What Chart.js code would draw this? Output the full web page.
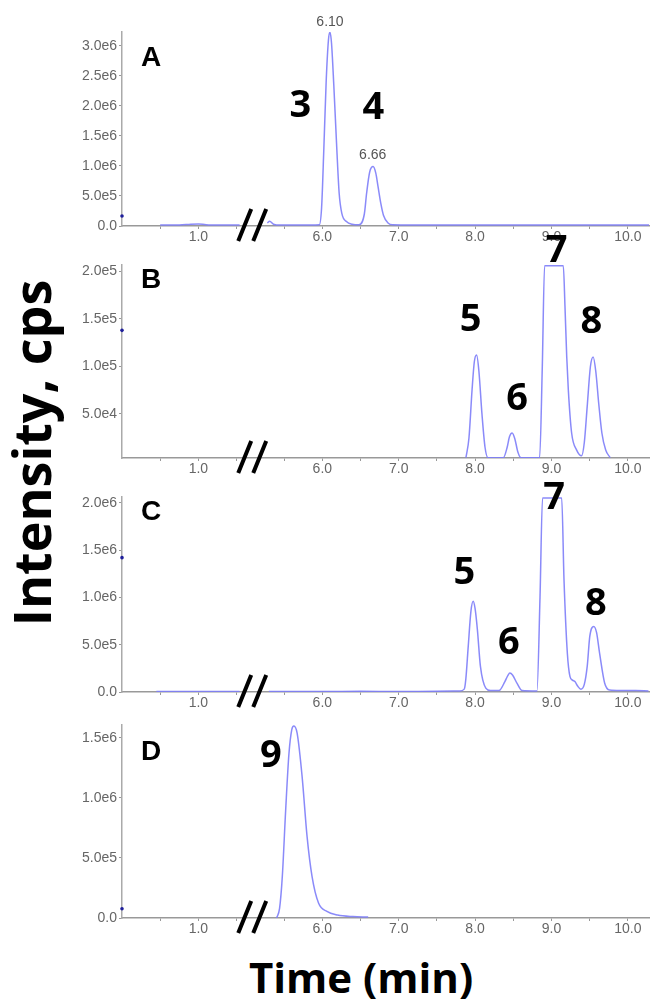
<!DOCTYPE html>
<html lang="en">
<head>
  <meta charset="UTF-8" />
  <title>Chromatograms A-D</title>
  <script src="https://cdn.jsdelivr.net/npm/chart.js"></script>
  <style>
    body {
      margin: 0;
      background: white;
      width: 653px;
      height: 1007px;
      position: relative;
      overflow: hidden;
      font-family: "Open Sans", Arial, sans-serif;
    }
    canvas { position: absolute; left: 0; }
    .title {
      position: absolute;
      font-weight: bold;
      color: #000;
      text-align: center;
      white-space: nowrap;
    }
    #ytitle {
      left: -219px; top: 427px; width: 500px; height: 52px;
      font-size: 52px; line-height: 52px;
      transform: rotate(-90deg);
    }
    #xtitle {
      left: 161px; top: 956px; width: 400px; height: 42px;
      font-size: 42px; line-height: 42px;
    }
  </style>
</head>
<body>
  <canvas id="panelA" width="653" height="250"></canvas>
  <canvas id="panelB" width="653" height="249"></canvas>
  <canvas id="panelC" width="653" height="251"></canvas>
  <canvas id="panelD" width="653" height="249"></canvas>
  <div class="title" id="ytitle">Intensity, cps</div>
  <div class="title" id="xtitle">Time (min)</div>

  <script>
    // retention time axis, with a break between ~1.5 and ~5.3 min
    const xTickTimes = [0.5, 1.0, 1.5, 5.5, 6.0, 6.5, 7.0, 7.5, 8.0, 8.5, 9.0, 9.5, 10.0];
    const xLabelTimes = [1.0, 6.0, 7.0, 8.0, 9.0, 10.0];

    // A: peaks 3 and 4 (null = axis break)
    const timesA = [0.5, 0.75, 0.9, 1.0, 1.1, 1.3, 1.54, null,
      5.28, 5.31, 5.36, 5.45, 5.7, 5.96, 5.99, 6.02, 6.05, 6.08, 6.10, 6.12, 6.15, 6.19, 6.22, 6.255, 6.32, 6.39, 6.48,
      6.55, 6.58, 6.62, 6.665, 6.70, 6.73, 6.765, 6.80, 6.86, 6.92, 7.5, 8.0, 8.5, 9.0, 9.5, 10.0, 10.3];
    const valuesA = [1.5e4, 1.5e4, 3e4, 3.5e4, 2e4, 1.5e4, 1.5e4, null,
      5e4, 8e4, 3e4, 1.5e4, 1.5e4, 2e4, 3e5, 1.3e6, 2.4e6, 3.1e6, 3.23e6, 3.05e6, 2.35e6, 1.27e6, 5.5e5, 2.1e5, 7e4, 3e4, 2e4,
      2e5, 5.5e5, 9e5, 9.9e5, 8.8e5, 6.5e5, 3.8e5, 1.8e5, 5e4, 2e4, 1.5e4, 1.5e4, 1.5e4, 1.5e4, 1.5e4, 1.5e4, 1.5e4];
    const yTicksA = [0, 5e5, 1e6, 1.5e6, 2e6, 2.5e6, 3e6];

    // B: peaks 5-8, peak 7 saturated
    const timesB = [7.88, 7.92, 7.96, 7.99, 8.02, 8.05, 8.09, 8.13, 8.17, 8.37, 8.42, 8.45, 8.485, 8.52, 8.56, 8.60,
      8.845, 8.88, 8.91, 9.00, 9.08, 9.155, 9.177, 9.20, 9.221, 9.264, 9.33, 9.394, 9.43, 9.468, 9.51, 9.546, 9.58, 9.62, 9.66, 9.71, 9.77];
    const valuesB = [4e3, 2.5e4, 7.5e4, 1.05e5, 1.12e5, 9.5e4, 5e4, 1.5e4, 4e3, 4e3, 1.5e4, 2.6e4, 3.0e4, 2.4e4, 1.0e4, 4e3,
      4e3, 1.0e5, 2.06e5, 2.06e5, 2.06e5, 2.06e5, 1.63e5, 1.1e5, 7.5e4, 3.0e4, 1.2e4, 6e3, 2e4, 5.8e4, 1.0e5, 1.1e5, 9.5e4, 6e4, 3e4, 1.2e4, 4e3];
    const yTicksB = [5e4, 1e5, 1.5e5, 2e5];

    // C: peaks 5-8, peak 7 saturated
    const timesC = [0.45, 0.8, 1.1, 1.3, 1.54, null,
      5.3, 6.0, 6.5, 7.0, 7.5, 7.8, 7.858, 7.878, 7.91, 7.945, 7.975, 8.0, 8.03, 8.07, 8.14, 8.20, 8.30,
      8.325, 8.39, 8.43, 8.455, 8.49, 8.55, 8.615, 8.81, 8.85, 8.883, 8.95, 9.05, 9.134, 9.164, 9.208, 9.242, 9.275, 9.307, 9.345, 9.385,
      9.43, 9.468, 9.502, 9.554, 9.59, 9.63, 9.696, 9.76, 9.9, 10.1, 10.27];
    const valuesC = [4e3, 4e3, 5e3, 4e3, 4e3, null,
      5e3, 5e3, 8e3, 5e3, 8e3, 1e4, 3e4, 1.3e5, 4.8e5, 8.5e5, 9.58e5, 8.8e5, 6.6e5, 2.7e5, 4e4, 1.5e4, 1.5e4,
      2e4, 1.1e5, 1.75e5, 2.0e5, 1.8e5, 9e4, 1.5e4, 1e4, 1.0e6, 2.05e6, 2.05e6, 2.05e6, 2.05e6, 1.19e6, 4.1e5, 1.65e5, 1.25e5, 1.1e5, 6e4, 3e4,
      8e4, 2.7e5, 5.9e5, 6.93e5, 6.3e5, 4.1e5, 9.5e4, 2e4, 1.5e4, 1.5e4, 1e4];
    const yTicksC = [0, 5e5, 1e6, 1.5e6, 2e6];

    // D: peak 9
    const timesD = [5.40, 5.44, 5.476, 5.52, 5.563, 5.60, 5.628, 5.67, 5.735, 5.80, 5.865, 5.95, 6.06, 6.2, 6.4, 6.6];
    const valuesD = [0, 8e4, 3.47e5, 9.0e5, 1.37e6, 1.57e6, 1.60e6, 1.54e6, 1.18e6, 6.8e5, 3.47e5, 1.25e5, 5.5e4, 2.5e4, 1.2e4, 8e3];
    const yTicksD = [0, 5e5, 1e6, 1.5e6];

    // first-scan dots sitting on the y axis
    const axisMarks = [1.67e5, 1.38e5, 1.42e6, 7.75e4];

    const GAP = 3.377;      // minutes cut out by the axis break
    const BREAK_AT = 1.705; // axis position of the // mark
    const X_MAX = 6.9;
    const PAD_TOP = 32;
    const LINE = 'rgba(125,125,248,0.9)';
    const TICK_FONT = { family: '"Liberation Sans", Arial, sans-serif', size: 14 };

    const toAxis = t => (t < 3 ? t : t - GAP);
    const fromAxis = u => (u < BREAK_AT ? u : u + GAP);

    function buildPoints(times, values) {
      return times.map((t, i) => t === null ? { x: BREAK_AT, y: null } : { x: toAxis(t), y: values[i] });
    }

    const fmtY = v => (v === 0 ? '0.0' : v.toExponential(1).replace('+', ''));

    const labelPlugin = {
      id: 'panelLabels',
      afterDraw(chart) {
        const cfg = chart.options.plugins.panelLabels;
        const { ctx, chartArea, scales } = chart;
        ctx.save();
        ctx.fillStyle = '#000';
        ctx.textAlign = 'center';
        ctx.textBaseline = 'middle';
        ctx.font = 'bold 28px "Liberation Sans", Arial, sans-serif';
        ctx.fillText(cfg.letter, chartArea.left + 29, chartArea.top + cfg.letterDy);

        ctx.font = 'bold 38px "Open Sans", sans-serif';
        cfg.peaks.forEach(p => {
          ctx.fillText(p.text, scales.x.getPixelForValue(toAxis(p.t)), scales.y.getPixelForValue(p.v));
        });

        ctx.fillStyle = '#555';
        ctx.font = '14px "Liberation Sans", Arial, sans-serif';
        (cfg.rts || []).forEach(p => {
          ctx.fillText(p.text, scales.x.getPixelForValue(toAxis(p.t)), scales.y.getPixelForValue(p.v));
        });

        // axis break
        const bx = scales.x.getPixelForValue(BREAK_AT);
        const by = chartArea.bottom;
        ctx.strokeStyle = '#000';
        ctx.lineWidth = 4;
        ctx.beginPath();
        ctx.moveTo(bx - 14, by + 15); ctx.lineTo(bx - 1, by - 17);
        ctx.moveTo(bx + 1, by + 15); ctx.lineTo(bx + 14, by - 17);
        ctx.stroke();
        ctx.restore();
      }
    };

    function makePanel(id, areaTop, times, values, mark, ymin, ymax, yTicks, labels) {
      const canvas = document.getElementById(id);
      canvas.style.top = (areaTop - PAD_TOP) + 'px';
      new Chart(canvas, {
        type: 'line',
        data: {
          datasets: [
            {
              data: buildPoints(times, values),
              borderColor: LINE,
              borderWidth: 1.5,
              pointRadius: 0,
              cubicInterpolationMode: 'monotone',
              spanGaps: false
            },
            {
              data: [{ x: 0, y: mark }],
              showLine: false,
              pointRadius: 1.8,
              pointBorderWidth: 0,
              pointBackgroundColor: '#1e1e9a',
              clip: false
            }
          ]
        },
        options: {
          responsive: false,
          animation: false,
          layout: { padding: { top: PAD_TOP, left: 0, right: 0, bottom: 0 } },
          plugins: { legend: { display: false }, tooltip: { enabled: false }, panelLabels: labels },
          scales: {
            x: {
              type: 'linear',
              min: 0,
              max: X_MAX,
              afterFit: s => { s.height = 24; },
              afterBuildTicks: s => { s.ticks = xTickTimes.map(t => ({ value: toAxis(t) })); },
              ticks: {
                autoSkip: false,
                maxRotation: 0,
                padding: 0,
                color: '#666',
                font: TICK_FONT,
                callback: v => {
                  const t = fromAxis(v);
                  return xLabelTimes.some(l => Math.abs(l - t) < 0.01) ? t.toFixed(1) : '';
                }
              },
              grid: { drawOnChartArea: false, tickLength: 3, color: '#999' },
              border: { color: '#999', width: 1.5 }
            },
            y: {
              min: ymin,
              max: ymax,
              afterFit: s => { s.width = 122; },
              afterBuildTicks: s => { s.ticks = yTicks.map(v => ({ value: v })); },
              ticks: { padding: 2, color: '#666', font: TICK_FONT, callback: fmtY },
              grid: { drawOnChartArea: false, tickLength: 3, color: '#999' },
              border: { color: '#aaa', width: 1.5 }
            }
          }
        },
        plugins: [labelPlugin]
      });
    }

    makePanel('panelA', 32, timesA, valuesA, axisMarks[0], 0, 3.233e6, yTicksA, {
      letter: 'A', letterDy: 26,
      peaks: [{ text: '3', t: 5.712, v: 1.99e6 }, { text: '4', t: 6.667, v: 1.97e6 }],
      rts: [{ text: '6.10', t: 6.10, v: 3.405e6 }, { text: '6.66', t: 6.66, v: 1.18e6 }]
    });
    makePanel('panelB', 265, timesB, valuesB, axisMarks[1], 3.68e3, 2.068e5, yTicksB, {
      letter: 'B', letterDy: 15,
      peaks: [{ text: '5', t: 7.943, v: 1.49e5 }, { text: '6', t: 8.55, v: 6.55e4 },
              { text: '7', t: 9.069, v: 2.21e5 }, { text: '8', t: 9.524, v: 1.47e5 }]
    });
    makePanel('panelC', 497, timesC, valuesC, axisMarks[2], 0, 2.061e6, yTicksC, {
      letter: 'C', letterDy: 15,
      peaks: [{ text: '5', t: 7.858, v: 1.258e6 }, { text: '6', t: 8.442, v: 5.18e5 },
              { text: '7', t: 9.034, v: 2.05e6 }, { text: '8', t: 9.58, v: 9.23e5 }]
    });
    makePanel('panelD', 725, timesD, valuesD, axisMarks[3], 0, 1.608e6, yTicksD, {
      letter: 'D', letterDy: 27,
      peaks: [{ text: '9', t: 5.325, v: 1.347e6 }]
    });
  </script>
</body>
</html>
